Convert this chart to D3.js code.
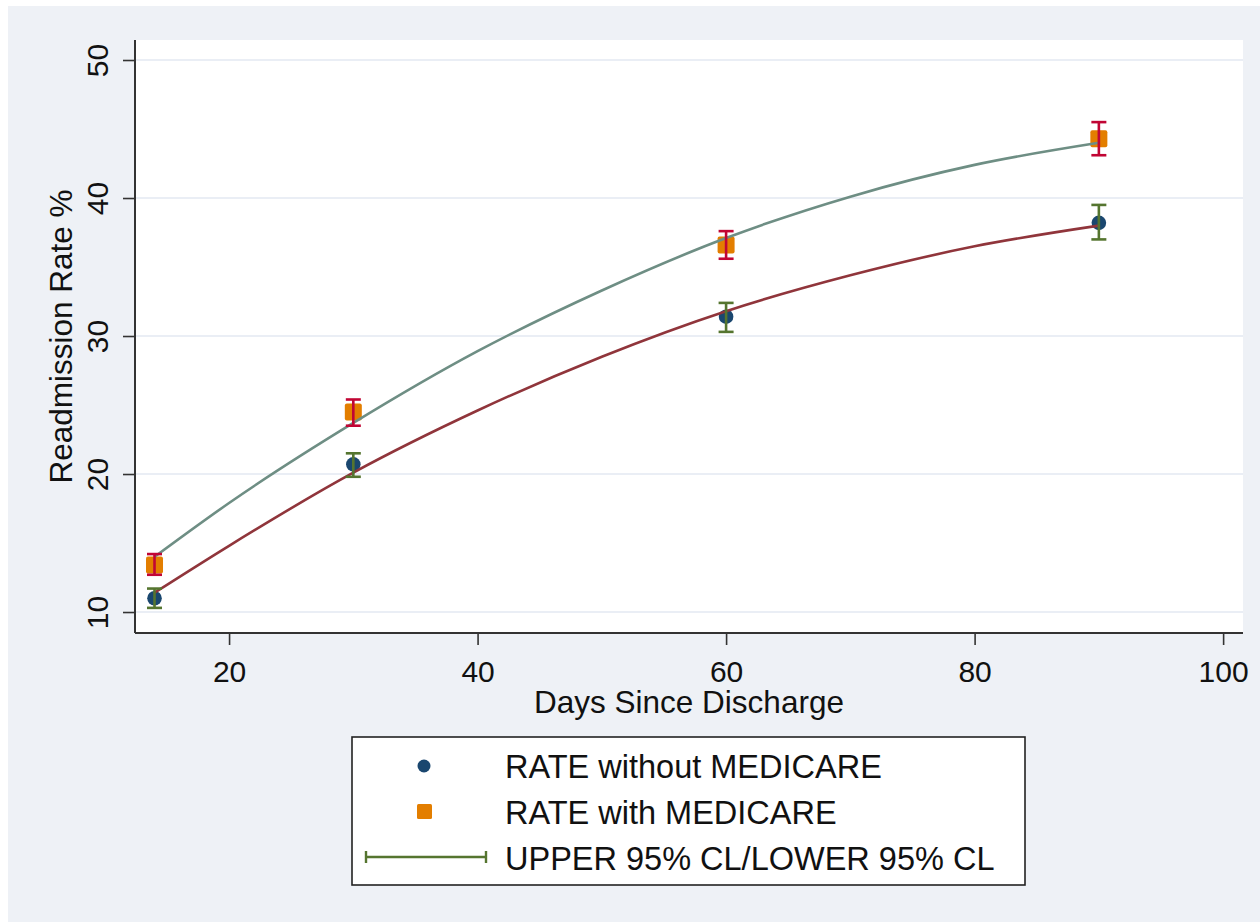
<!DOCTYPE html>
<html>
<head>
<meta charset="utf-8">
<script src="https://cdn.jsdelivr.net/npm/d3@7"></script>
<style>
  body { margin: 0; background: #fff; }
  svg { display: block; font-family: "Liberation Sans", Arial, sans-serif; }
</style>
</head>
<body>
<script>
// observed points
const days = [14, 30, 60, 90];
const rateWithout = [11.0, 20.7, 31.4, 38.2];
const ciWithoutLo = [10.3, 19.8, 30.3, 37.0];
const ciWithoutHi = [11.7, 21.5, 32.4, 39.5];
const rateWith = [13.4, 24.5, 36.6, 44.3];
const ciWithLo = [12.7, 23.5, 35.6, 43.1];
const ciWithHi = [14.2, 25.4, 37.6, 45.5];

// fitted curves
const fitDays = [14, 20, 30, 40, 50, 60, 70, 80, 90];
const fitWithout = [11.4, 14.8, 20.1, 24.6, 28.5, 31.8, 34.4, 36.5, 38.0];
const fitWith = [14.0, 17.9, 23.7, 28.9, 33.3, 37.1, 40.1, 42.4, 44.0];

const xTicks = [20, 40, 60, 80, 100];
const yTicks = [10, 20, 30, 40, 50];
const legendLabels = ["RATE without MEDICARE", "RATE with MEDICARE", "UPPER 95% CL/LOWER 95% CL"];

const width = 1260, height = 922;
const plot = {left: 135, right: 1243, top: 40, bottom: 633};

const svg = d3.select("body").append("svg")
  .attr("width", width)
  .attr("height", height);

// graph region
svg.append("rect").attr("x", 8).attr("y", 6)
  .attr("width", width - 8).attr("height", height - 6)
  .attr("fill", "#eef1f6");

svg.append("rect")
  .attr("x", plot.left).attr("y", plot.top)
  .attr("width", plot.right - plot.left).attr("height", plot.bottom - plot.top)
  .attr("fill", "#fff");

const x = d3.scaleLinear().domain([12.43, 101.6]).range([plot.left, plot.right]);
const y = d3.scaleLinear().domain([8.48, 51.45]).range([plot.bottom, plot.top]);

// grid
svg.append("g").selectAll("line").data(yTicks).join("line")
  .attr("x1", plot.left).attr("x2", plot.right)
  .attr("y1", d => y(d)).attr("y2", d => y(d))
  .attr("stroke", "#eaeef5").attr("stroke-width", 2);

// axes
const yAxis = svg.append("g")
  .attr("transform", "translate(" + plot.left + ",0)")
  .call(d3.axisLeft(y).tickValues(yTicks).tickSize(12).tickSizeOuter(0));
yAxis.selectAll("text")
  .attr("transform", "rotate(-90)")
  .attr("x", 0).attr("y", -27).attr("dy", 0)
  .style("text-anchor", "middle");

const xAxis = svg.append("g")
  .attr("transform", "translate(0," + plot.bottom + ")")
  .call(d3.axisBottom(x).tickValues(xTicks).tickSize(12).tickSizeOuter(0));
xAxis.selectAll("text").attr("y", 49).attr("dy", 0);

svg.selectAll(".domain").remove();
[yAxis, xAxis].forEach(function(a) {
  a.selectAll("line").attr("stroke", "#333").attr("stroke-width", 1.6);
  a.selectAll("text").attr("fill", "#111").style("font-size", "30px");
});
svg.append("line")
  .attr("x1", plot.left).attr("x2", plot.left)
  .attr("y1", plot.top).attr("y2", plot.bottom)
  .attr("stroke", "#333").attr("stroke-width", 2);
svg.append("line")
  .attr("x1", plot.left).attr("x2", plot.right)
  .attr("y1", plot.bottom).attr("y2", plot.bottom)
  .attr("stroke", "#333").attr("stroke-width", 2);

// axis titles
svg.append("text")
  .attr("x", (plot.left + plot.right) / 2).attr("y", 713)
  .attr("text-anchor", "middle").style("font-size", "31.5px").attr("fill", "#111")
  .text("Days Since Discharge");
svg.append("text")
  .attr("transform", "translate(72," + (plot.top + plot.bottom) / 2 + ") rotate(-90)")
  .attr("text-anchor", "middle").style("font-size", "31.5px").attr("fill", "#111")
  .text("Readmission Rate %");

const line = d3.line()
  .x(d => x(d[0])).y(d => y(d[1]))
  .curve(d3.curveMonotoneX);

function rcap(g, lo, hi, color) {
  const cap = 7.5;
  const data = days.map((d, i) => [d, lo[i], hi[i]]);
  const e = g.append("g").attr("stroke", color).attr("stroke-width", 2.6).attr("fill", "none");
  e.selectAll(".v").data(data).join("line")
    .attr("x1", d => x(d[0])).attr("x2", d => x(d[0]))
    .attr("y1", d => y(d[1])).attr("y2", d => y(d[2]));
  e.selectAll(".t").data(data).join("line")
    .attr("x1", d => x(d[0]) - cap).attr("x2", d => x(d[0]) + cap)
    .attr("y1", d => y(d[2])).attr("y2", d => y(d[2]));
  e.selectAll(".b").data(data).join("line")
    .attr("x1", d => x(d[0]) - cap).attr("x2", d => x(d[0]) + cap)
    .attr("y1", d => y(d[1])).attr("y2", d => y(d[1]));
}

const marks = svg.append("g");

// without medicare
marks.append("g").selectAll("circle").data(days).join("circle")
  .attr("cx", d => x(d)).attr("cy", (d, i) => y(rateWithout[i]))
  .attr("r", 7.3).attr("fill", "#1a476f");
marks.append("path")
  .datum(fitDays.map((d, i) => [d, fitWithout[i]]))
  .attr("d", line).attr("fill", "none")
  .attr("stroke", "#90353b").attr("stroke-width", 2.6);
rcap(marks, ciWithoutLo, ciWithoutHi, "#55752f");

// with medicare
marks.append("g").selectAll("rect").data(days).join("rect")
  .attr("x", d => x(d) - 8.5).attr("y", (d, i) => y(rateWith[i]) - 8.5)
  .attr("width", 17).attr("height", 17).attr("rx", 2)
  .attr("fill", "#e37e00");
marks.append("path")
  .datum(fitDays.map((d, i) => [d, fitWith[i]]))
  .attr("d", line).attr("fill", "none")
  .attr("stroke", "#6e8e84").attr("stroke-width", 2.6);
rcap(marks, ciWithLo, ciWithHi, "#c10534");

// legend
const lg = svg.append("g");
lg.append("rect")
  .attr("x", 352).attr("y", 737).attr("width", 673).attr("height", 148)
  .attr("fill", "#fff").attr("stroke", "#222").attr("stroke-width", 1.6);
lg.append("circle").attr("cx", 424).attr("cy", 766).attr("r", 6.5).attr("fill", "#1a476f");
lg.append("rect").attr("x", 417).attr("y", 804).attr("width", 15).attr("height", 15)
  .attr("rx", 1.5).attr("fill", "#e37e00");
const lc = lg.append("g").attr("stroke", "#55752f").attr("stroke-width", 2.4);
lc.append("line").attr("x1", 366).attr("x2", 486).attr("y1", 857).attr("y2", 857);
lc.append("line").attr("x1", 366).attr("x2", 366).attr("y1", 851).attr("y2", 863);
lc.append("line").attr("x1", 486).attr("x2", 486).attr("y1", 851).attr("y2", 863);
lg.selectAll("text").data(legendLabels).join("text")
  .attr("x", 505).attr("y", (d, i) => 778 + i * 46)
  .style("font-size", "32.5px").attr("fill", "#111")
  .text(d => d);
</script>
</body>
</html>
